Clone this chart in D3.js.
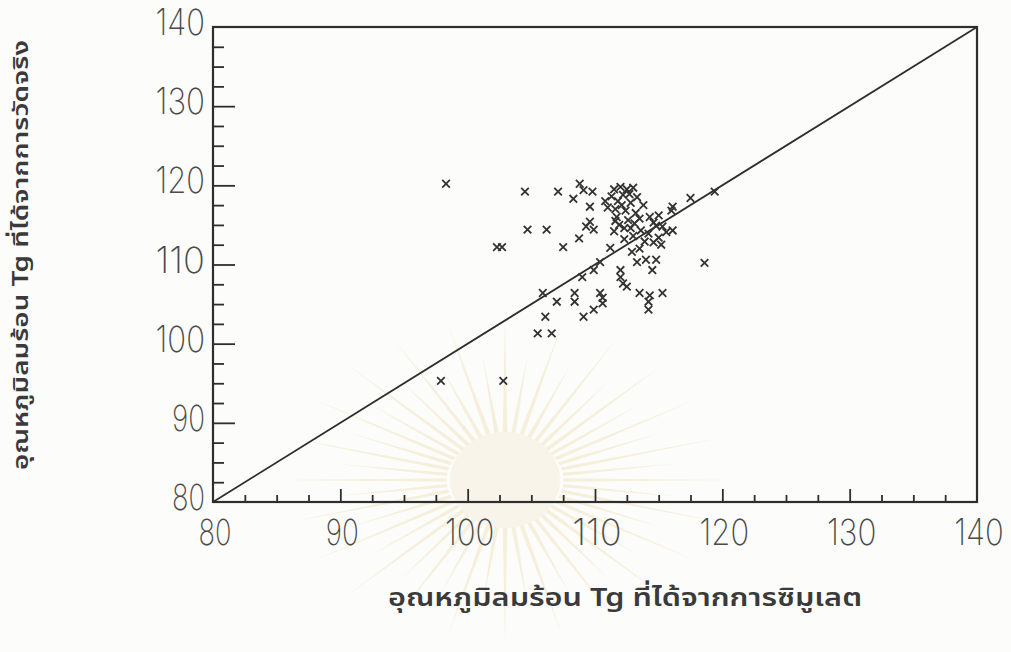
<!DOCTYPE html>
<html>
<head>
<meta charset="utf-8">
<script src="https://cdn.jsdelivr.net/npm/d3@7"></script>
<style>
  html, body { margin: 0; padding: 0; background: #fcfcfa; }
  svg { display: block; }
</style>
</head>
<body>
<svg id="chart" width="1011" height="652"></svg>
<script>
// Axis ranges and tick labels
const xDomain = [80, 140];
const yDomain = [80, 140];
const xTickLabels = [80, 90, 100, 110, 120, 130, 140];
const yTickLabels = [80, 90, 100, 110, 120, 130, 140];
const minorStep = 2.5;

// Simulated Tg (x) against measured Tg (y)
const simulatedTg = [
  98.3, 97.9, 102.8, 102.3, 102.7, 104.5, 104.7, 106.2, 107.1, 107.5,
  108.3, 108.8, 109.1, 109.8, 109.6, 109.6, 109.9, 109.3, 108.75, 119.4,
  117.5, 116.1, 118.6, 111.2, 110.4, 109.9, 109.0, 112.0, 112.0, 112.2,
  112.5, 113.3, 114.0, 114.5, 114.8, 105.9, 107.0, 108.4, 108.4, 110.4,
  110.6, 110.6, 109.9, 109.1, 106.1, 105.5, 106.6, 113.5, 114.3, 114.2,
  114.2, 115.3,
  111.5, 112.0, 112.5, 113.0, 112.2, 113.3, 111.8, 112.8, 113.8, 111.6,
  112.4, 113.2, 111.7, 112.6, 113.5, 114.3, 115.0, 114.6, 115.3, 111.9,
  112.8, 113.6, 114.2, 115.0, 115.6, 116.1, 113.0, 112.3, 114.6, 115.2,
  113.9, 111.5, 116.0, 112.9, 113.5, 111.3, 110.8, 111.0,
  112.1, 112.7, 113.1, 111.6, 112.3, 114.8
];
const measuredTg = [
  120.2, 95.3, 95.3, 112.2, 112.2, 119.2, 114.4, 114.4, 119.2, 112.2,
  118.3, 120.2, 119.4, 119.2, 117.3, 115.4, 114.4, 114.8, 113.3, 119.2,
  118.4, 117.3, 110.2, 112.1, 110.3, 109.3, 108.4, 109.3, 108.4, 107.6,
  107.2, 110.3, 110.6, 109.3, 110.6, 106.4, 105.3, 106.4, 105.3, 106.4,
  105.8, 105.1, 104.3, 103.4, 103.4, 101.3, 101.3, 106.4, 106.1, 105.3,
  104.3, 106.4,
  119.5, 119.8, 119.5, 119.7, 118.8, 118.5, 118.0, 117.8, 117.5, 117.0,
  116.8, 116.5, 116.0, 115.6, 115.8, 116.0, 116.2, 115.3, 114.8, 115.0,
  114.6, 114.3, 113.9, 113.4, 114.1, 114.3, 113.6, 113.2, 112.8, 112.5,
  112.9, 114.2, 116.8, 111.6, 112.0, 118.6, 118.0, 117.2,
  117.5, 118.9, 115.2, 115.5, 114.6, 114.9
];

const xTitle = "อุณหภูมิลมร้อน Tg ที่ได้จากการซิมูเลต";
const yTitle = "อุณหภูมิลมร้อน Tg ที่ได้จากการวัดจริง";

const ink = "#2e2e2e";
const svg = d3.select("#chart");
const plot = { left: 213, right: 977, top: 27, bottom: 502 };

// Faint emblem watermark printed on the page behind the chart
const wm = svg.append("g").attr("transform", "translate(505,480)").attr("opacity", 0.5);
wm.selectAll("path").data(d3.range(0, 360, 7.5)).join("path")
  .attr("d", a => {
    const r = a * Math.PI / 180;
    const r1 = 45, r2 = (a / 7.5) % 2 === 0 ? 170 : 130;
    const w = 0.04;
    return `M${r1 * Math.cos(r - w)},${r1 * Math.sin(r - w)}L${r2 * Math.cos(r)},${r2 * Math.sin(r)}L${r1 * Math.cos(r + w)},${r1 * Math.sin(r + w)}Z`;
  })
  .attr("transform", "scale(1.3,0.95)")
  .attr("fill", "#f1e4bd");
wm.append("ellipse").attr("rx", 55).attr("ry", 48).attr("fill", "#f5eedb");

const x = d3.scaleLinear().domain(xDomain).range([plot.left, plot.right]);
const y = d3.scaleLinear().domain(yDomain).range([plot.bottom, plot.top]);

const minorTicks = d3.range(xDomain[0] + minorStep, xDomain[1], minorStep)
  .filter(v => Math.abs(v % 10) > 1e-6);
const minorTicksY = d3.range(yDomain[0] + minorStep, yDomain[1], minorStep)
  .filter(v => Math.abs(v % 10) > 1e-6);

// Ticks point into the plot; labels are drawn separately
const xAxisMajor = d3.axisBottom(x).tickValues(xTickLabels.slice(1, -1))
  .tickSize(-13).tickFormat("");
const xAxisMinor = d3.axisBottom(x).tickValues(minorTicks)
  .tickSize(-7).tickFormat("");
const yAxisMajor = d3.axisLeft(y).tickValues(yTickLabels.slice(1, -1))
  .tickSize(-22).tickFormat("");
const yAxisMinor = d3.axisLeft(y).tickValues(minorTicksY)
  .tickSize(-11).tickFormat("");

function styleAxis(g) {
  g.select(".domain").remove();
  g.selectAll("line").attr("stroke", ink).attr("stroke-width", 1.8);
}
svg.append("g").attr("transform", `translate(0,${plot.bottom})`).call(xAxisMajor).call(styleAxis);
svg.append("g").attr("transform", `translate(0,${plot.bottom})`).call(xAxisMinor).call(styleAxis);
svg.append("g").attr("transform", `translate(${plot.left},0)`).call(yAxisMajor).call(styleAxis);
svg.append("g").attr("transform", `translate(${plot.left},0)`).call(yAxisMinor).call(styleAxis);

// Frame
svg.append("rect")
  .attr("x", x(xDomain[0])).attr("y", y(yDomain[1]))
  .attr("width", x(xDomain[1]) - x(xDomain[0]))
  .attr("height", y(yDomain[0]) - y(yDomain[1]))
  .attr("fill", "none").attr("stroke", ink).attr("stroke-width", 2.2);

// Line of equality
svg.append("line")
  .attr("x1", x(80)).attr("y1", y(80))
  .attr("x2", x(140)).attr("y2", y(140))
  .attr("stroke", ink).attr("stroke-width", 1.8);

// Thin plotter-style tick labels
const numFont = "Inter, 'DejaVu Sans', sans-serif";
const digitW = 16.5;
function numLabels(g) {
  g.attr("font-family", numFont)
    .attr("font-weight", 200)
    .attr("font-size", 36)
    .attr("fill", "#4a4a4a")
    .attr("textLength", d => String(d).length * digitW)
    .attr("lengthAdjust", "spacingAndGlyphs")
    .text(d => d);
}
svg.append("g").selectAll("text").data(xTickLabels).join("text")
  .attr("x", d => x(d) + 2)
  .attr("y", 545)
  .attr("text-anchor", "middle")
  .call(numLabels);

svg.append("g").selectAll("text").data(yTickLabels).join("text")
  .attr("x", 205)
  .attr("y", d => y(d) + 8)
  .attr("text-anchor", "end")
  .call(numLabels);

// Data markers: small crosses
const pts = simulatedTg.map((v, i) => [v, measuredTg[i]]);
const h = 3.8;
svg.append("g").selectAll("path").data(pts).join("path")
  .attr("d", d => {
    const cx = x(d[0]), cy = y(d[1]);
    return `M${cx - h},${cy - h}L${cx + h},${cy + h}M${cx - h},${cy + h}L${cx + h},${cy - h}`;
  })
  .attr("stroke", "#333").attr("stroke-width", 1.8).attr("fill", "none");

// Axis titles
const thaiFont = "'Noto Sans Thai', 'Noto Serif Thai', 'Loma', 'Garuda', 'DejaVu Sans', sans-serif";
svg.append("text")
  .attr("x", 625).attr("y", 606)
  .attr("text-anchor", "middle")
  .attr("font-family", thaiFont)
  .attr("font-weight", 600)
  .attr("font-size", 25)
  .attr("fill", "#3a3a3a")
  .attr("textLength", 474)
  .attr("lengthAdjust", "spacingAndGlyphs")
  .text(xTitle);

svg.append("text")
  .attr("transform", "translate(28,255) rotate(-90)")
  .attr("text-anchor", "middle")
  .attr("font-family", thaiFont)
  .attr("font-weight", 600)
  .attr("font-size", 22)
  .attr("fill", "#3a3a3a")
  .attr("textLength", 430)
  .attr("lengthAdjust", "spacingAndGlyphs")
  .text(yTitle);
</script>
</body>
</html>
